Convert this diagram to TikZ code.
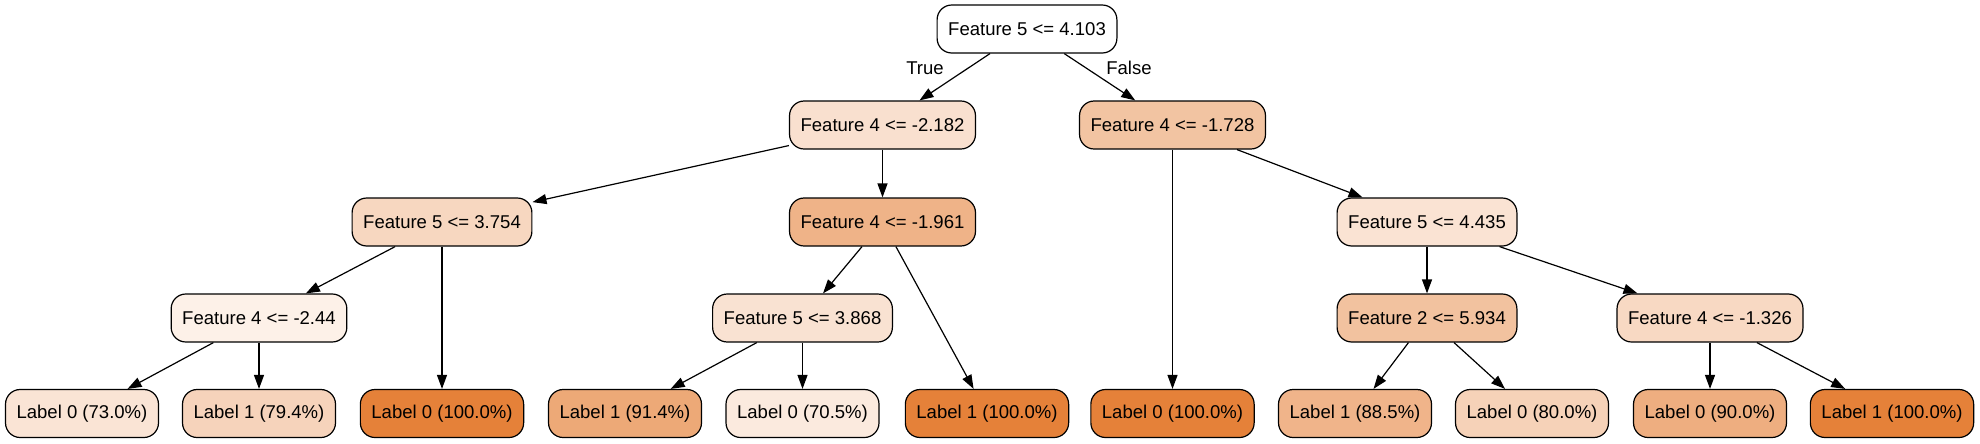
\documentclass[tikz,border=0pt]{standalone}
\usepackage{fontspec}
\setmainfont{Liberation Sans}
\usetikzlibrary{arrows.meta}
\definecolor{nA}{RGB}{249,224,207}
\definecolor{nB}{RGB}{242,196,162}
\definecolor{nC}{RGB}{247,215,192}
\definecolor{nD}{RGB}{239,179,136}
\definecolor{nE}{RGB}{250,227,211}
\definecolor{nF}{RGB}{253,241,232}
\definecolor{nG}{RGB}{249,226,210}
\definecolor{nH}{RGB}{242,194,159}
\definecolor{nI}{RGB}{248,217,195}
\definecolor{p730}{RGB}{250,228,213}
\definecolor{p794}{RGB}{246,211,187}
\definecolor{p914}{RGB}{237,169,119}
\definecolor{p705}{RGB}{251,234,222}
\definecolor{p885}{RGB}{240,180,138}
\definecolor{p800}{RGB}{246,210,184}
\definecolor{p900}{RGB}{238,174,128}
\definecolor{pfull}{RGB}{229,129,57}
\begin{document}
\begin{tikzpicture}[x=0.75pt,y=-0.75pt,
  box/.style={draw=black, line width=0.9pt, rounded corners=11pt, minimum height=36pt,
    inner xsep=8.3pt, inner ysep=0pt, font=\fontsize{13.9}{16}\selectfont, text=black},
  edge/.style={draw=black, line width=0.9pt, -{Triangle[length=10.5pt,width=7.5pt]}},
  lbl/.style={font=\fontsize{13.9}{16}\selectfont, text=black, inner sep=0pt}]
\useasboundingbox (0,0) rectangle (1980,443);
% internal nodes
\node[box, fill=white] (root) at (1027,29) {Feature 5 <= 4.103};
\node[box, fill=nA] (a) at (882.5,125) {Feature 4 <= -2.182};
\node[box, fill=nB] (b) at (1172.5,125) {Feature 4 <= -1.728};
\node[box, fill=nC] (c) at (442,222) {Feature 5 <= 3.754};
\node[box, fill=nD] (d) at (882.5,222) {Feature 4 <= -1.961};
\node[box, fill=nE] (e) at (1427,222) {Feature 5 <= 4.435};
\node[box, fill=nF] (f) at (259,318) {Feature 4 <= -2.44};
\node[box, fill=nG] (g) at (802.5,318) {Feature 5 <= 3.868};
\node[box, fill=nH] (h) at (1427,318) {Feature 2 <= 5.934};
\node[box, fill=nI] (i) at (1710,318) {Feature 4 <= -1.326};
% leaves
\node[box, fill=p730] (l1) at (82,413.5) {Label 0 (73.0\%)};
\node[box, fill=p794] (l2) at (259,413.5) {Label 1 (79.4\%)};
\node[box, fill=pfull] (l3) at (442,413.5) {Label 0 (100.0\%)};
\node[box, fill=p914] (l4) at (625,413.5) {Label 1 (91.4\%)};
\node[box, fill=p705] (l5) at (802.5,413.5) {Label 0 (70.5\%)};
\node[box, fill=pfull] (l6) at (987,413.5) {Label 1 (100.0\%)};
\node[box, fill=pfull] (l7) at (1172.5,413.5) {Label 0 (100.0\%)};
\node[box, fill=p885] (l8) at (1355,413.5) {Label 1 (88.5\%)};
\node[box, fill=p800] (l9) at (1532,413.5) {Label 0 (80.0\%)};
\node[box, fill=p900] (l10) at (1710,413.5) {Label 0 (90.0\%)};
\node[box, fill=pfull] (l11) at (1892,413.5) {Label 1 (100.0\%)};
% edges
\draw[edge] (root) -- (a);
\draw[edge] (root) -- (b);
\node[lbl] (tlab) at (925,68) {True};
\node[lbl] (flab) at (1129,68) {False};
\draw[edge] (a) -- (c);
\draw[edge] (a) -- (d);
\draw[edge] (b) -- (l7);
\draw[edge] (b) -- (e);
\draw[edge] (c) -- (f);
\draw[edge] (c) -- (l3);
\draw[edge] (d) -- (g);
\draw[edge] (d) -- (l6);
\draw[edge] (e) -- (h);
\draw[edge] (e) -- (i);
\draw[edge] (f) -- (l1);
\draw[edge] (f) -- (l2);
\draw[edge] (g) -- (l4);
\draw[edge] (g) -- (l5);
\draw[edge] (h) -- (l8);
\draw[edge] (h) -- (l9);
\draw[edge] (i) -- (l10);
\draw[edge] (i) -- (l11);
\end{tikzpicture}
\end{document}
